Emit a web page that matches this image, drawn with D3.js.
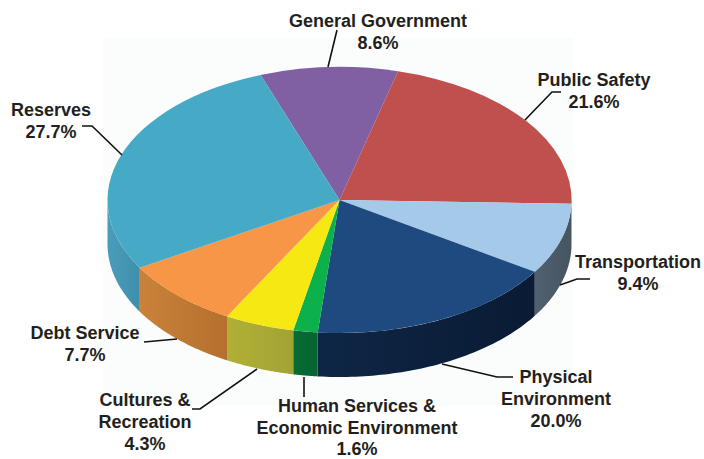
<!DOCTYPE html>
<html>
<head>
<meta charset="utf-8">
<script src="https://cdn.jsdelivr.net/npm/d3@7"></script>
<style>
html,body{margin:0;padding:0;background:#fff;overflow:hidden}
svg{display:block}
text{font-family:"Liberation Sans",Arial,sans-serif;font-weight:700;font-size:18px;fill:#231f20;text-anchor:middle}
</style>
</head>
<body>
<svg id="chart" width="704" height="459"></svg>
<script>
// Category names (one entry per text line) and printed percentages
const categories = [["General Government"],["Public Safety"],["Transportation"],["Physical","Environment"],["Human Services &","Economic Environment"],["Cultures &","Recreation"],["Debt Service"],["Reserves"]];
const percentLabels = ["8.6%","21.6%","9.4%","20.0%","1.6%","4.3%","7.7%","27.7%"];
// Slice spans (the perspective drawing differs a little from the printed shares)
const sliceSpans = [34.5,77,31.1,62.7,6.1,17.5,30.4,100.7];
const topColors = ["#8060a3","#c0504d","#a5c9e9","#1f4a7f","#0db14b","#f6e813","#f79646","#46a9c6"];
const wallLight = ["#5a4578","#8a3a38","#4f6172","#0e2646","#066c36","#b0b037","#c98238","#4a9dba"];
const wallDark  = ["#4a3866","#7a3230","#46545f","#0a1b33","#06642f","#a3a335","#b5702f","#3f8fac"];

// Layout
const cx = 339.5, cy = 200, rx = 232, ry = 133, depth = 44, startDeg = -19.9;
const labelAnchors = [[378,27],[594,86],[638,268],[556,383],[357,412],[145,406],[85,339],[51,116]];
const lineSteps = [22,22,22,22,21.5,22,22,22];
const leaders = [
  [[328,67],[337,30]],
  [[525,120],[552,92],[561,92]],
  [[560,285],[577,279],[590,279]],
  [[442,364],[497,377],[513,377]],
  [[304,377],[304,397]],
  [[257,369],[200,409],[192,409]],
  [[177,339],[144,342]],
  [[122,155],[92,126],[82,126]]
];

const rad = d => d * Math.PI / 180;
const svg = d3.select("#chart");
const defs = svg.append("defs");

svg.append("rect").attr("x",103).attr("y",38).attr("width",470).attr("height",367).attr("fill","#fbfcfc");

const pie = d3.pie().sort(null).value(d => d)
  .startAngle(rad(startDeg)).endAngle(rad(startDeg + 360));
const slices = pie(sliceSpans);

const sx = d3.scaleLinear().domain([-1,1]).range([cx-rx,cx+rx]);
const sy = d3.scaleLinear().domain([-1,1]).range([cy-ry,cy+ry]);

// Walls: visible only on the front half of the ellipse (90deg..270deg from the top)
const wallArea = d3.area()
  .x(a => sx(Math.sin(a)))
  .y0(a => sy(-Math.cos(a)))
  .y1(a => sy(-Math.cos(a)) + depth);

slices.forEach((s,i) => {
  for (const shift of [0, 2*Math.PI]) {
    const a0 = Math.max(s.startAngle + shift, Math.PI/2);
    const a1 = Math.min(s.endAngle + shift, 3*Math.PI/2);
    if (a1 <= a0) continue;
    const pts = d3.range(0,61).map(k => a0 + (a1-a0)*k/60);
    const id = "wall"+i;
    const xs = pts.map(a => sx(Math.sin(a)));
    const g = defs.append("linearGradient").attr("id",id).attr("gradientUnits","userSpaceOnUse")
      .attr("x1",d3.min(xs)).attr("x2",d3.max(xs)).attr("y1",0).attr("y2",0);
    g.append("stop").attr("offset","0").attr("stop-color",wallLight[i]);
    g.append("stop").attr("offset","1").attr("stop-color",wallDark[i]);
    svg.append("path").attr("d",wallArea(pts)).attr("fill",`url(#${id})`);
  }
});

// Top face: unit d3.arc squashed to the ellipse
const arc = d3.arc().innerRadius(0).outerRadius(1);
svg.append("g").attr("transform",`translate(${cx},${cy}) scale(${rx},${ry})`)
  .selectAll("path").data(slices).join("path")
  .attr("d",arc).attr("fill",(d,i)=>topColors[i]);

// Leaders
const line = d3.line();
svg.append("g").selectAll("path").data(leaders).join("path")
  .attr("d",line).attr("fill","none").attr("stroke","#111").attr("stroke-width",1.6);

// Labels
const lab = svg.append("g");
categories.forEach((lines,i) => {
  const [x,y] = labelAnchors[i];
  const t = lab.append("text").attr("x",x).attr("y",y);
  lines.concat(percentLabels[i]).forEach((str,k) => {
    t.append("tspan").attr("x",x).attr("y",y + k*lineSteps[i]).text(str);
  });
});
</script>
</body>
</html>
